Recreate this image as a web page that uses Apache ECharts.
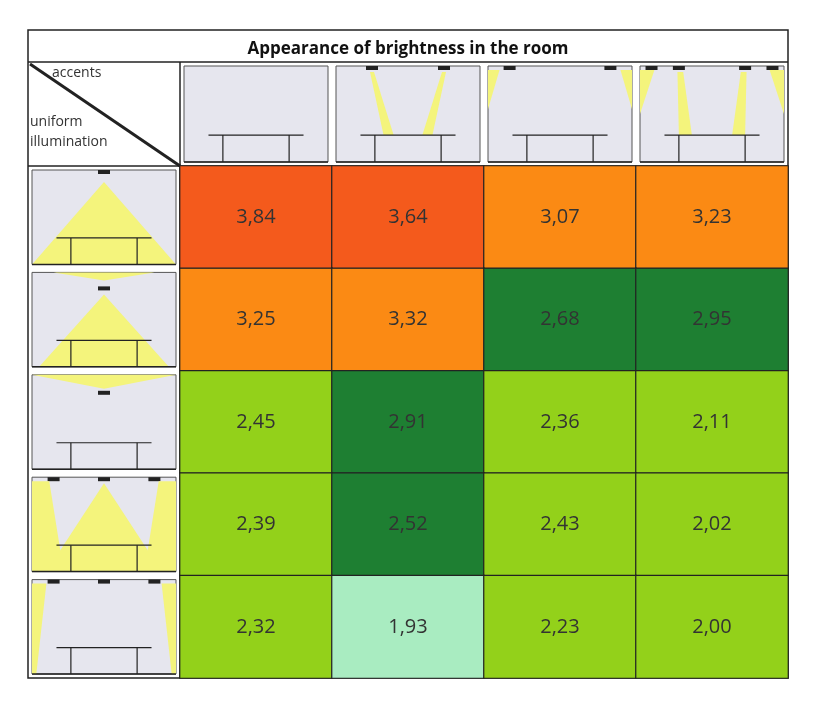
<!DOCTYPE html>
<html><head><meta charset="utf-8">
<script src="https://cdn.jsdelivr.net/npm/echarts@6/dist/echarts.min.js"></script>
<style>html,body{margin:0;background:#fff}#c{width:816px;height:712px}</style>
</head><body><div id="c"></div>
<script>
const accents = ['none','narrow spots','wide spots','four spots'];
const uniform = ['wide downlight','down/up light','up light','three wide downlights','three wall washers'];
const values = [
  [3.84,3.64,3.07,3.23],
  [3.25,3.32,2.68,2.95],
  [2.45,2.91,2.36,2.11],
  [2.39,2.52,2.43,2.02],
  [2.32,1.93,2.23,2.00]
];
const groups = [
  ['high','high','mid','mid'],
  ['mid','mid','dark','dark'],
  ['light','dark','light','light'],
  ['light','dark','light','light'],
  ['light','pale','light','light']
];
const groupColor = {high:'#f45a1c', mid:'#fb8a14', dark:'#1e7f32', light:'#93d11a', pale:'#a9ecc1'};

const data = [];
values.forEach((row,r)=>row.forEach((v,c)=>data.push({value:[c,r,v],itemStyle:{color:groupColor[groups[r][c]]}})));

const chart = echarts.init(document.getElementById('c'));
const L=180,R=788,T=166,B=678,CW=(R-L)/4,RH=(B-T)/5;
const Y='#f4f47c', G='#e6e6ee', K='#222';
const g=[];
function box(x,y,w,h){g.push({type:'rect',shape:{x,y,width:w,height:h},style:{fill:G,stroke:'#555',lineWidth:1}});}
function poly(pts,fill){g.push({type:'polygon',shape:{points:pts},style:{fill}});}
function line(x1,y1,x2,y2,w){g.push({type:'line',shape:{x1,y1,x2,y2},style:{stroke:K,lineWidth:w||1.2}});}
function lamp(x,y){g.push({type:'rect',shape:{x:x-6,y:y,width:12,height:4},style:{fill:K}});}
function table(x,y,w,h){ // box coords
  const tl=x+w*0.17, tr=x+w*0.83, ty=y+h*0.72;
  line(tl,ty,tr,ty);line(tl+w*0.1,ty,tl+w*0.1,y+h);line(tr-w*0.1,ty,tr-w*0.1,y+h);
  line(x,y+h,x+w,y+h,1.5);
}
// header icons
for(let c=0;c<4;c++){
  const x=L+c*CW+4,y=T-100,w=CW-8,h=96;
  box(x,y,w,h);
  if(c===1){[0.25,0.75].forEach((f,i)=>{const lx=x+w*f;lamp(lx,y);poly(i?[[lx-2,y+6],[lx+2,y+6],[lx-w*0.08,y+h*0.72],[lx-w*0.15,y+h*0.72]]:[[lx-2,y+6],[lx+2,y+6],[lx+w*0.15,y+h*0.72],[lx+w*0.08,y+h*0.72]],Y);});}
  if(c===2){lamp(x+w*0.15,y);lamp(x+w*0.85,y);poly([[x,y+4],[x+w*0.08,y+4],[x,y+h*0.45]],Y);poly([[x+w,y+4],[x+w*0.92,y+4],[x+w,y+h*0.45]],Y);}
  if(c===3){[0.08,0.27,0.73,0.92].forEach(f=>lamp(x+w*f,y));poly([[x,y+4],[x+w*0.1,y+4],[x,y+h*0.5]],Y);poly([[x+w,y+4],[x+w*0.9,y+4],[x+w,y+h*0.5]],Y);
    poly([[x+w*0.26,y+6],[x+w*0.3,y+6],[x+w*0.36,y+h*0.72],[x+w*0.27,y+h*0.72]],Y);poly([[x+w*0.7,y+6],[x+w*0.74,y+6],[x+w*0.73,y+h*0.72],[x+w*0.64,y+h*0.72]],Y);}
  table(x,y,w,h);
}
// row icons
for(let r=0;r<5;r++){
  const x=32,y=T+r*RH+4,w=L-36,h=RH-8,cx=x+w/2;
  box(x,y,w,h);
  if(r===0){lamp(cx,y);poly([[cx,y+12],[x+w,y+h],[x,y+h]],Y);}
  if(r===1){poly([[x+w*0.15,y],[x+w*0.85,y],[cx,y+8]],Y);lamp(cx,y+14);poly([[cx,y+22],[x+w*0.95,y+h],[x+w*0.05,y+h]],Y);}
  if(r===2){poly([[x,y],[x+w,y],[cx,y+14]],Y);lamp(cx,y+16);}
  if(r===3){[0.15,0.5,0.85].forEach(f=>lamp(x+w*f,y));poly([[x,y+4],[x+w*0.12,y+4],[x+w*0.22,y+h],[x,y+h]],Y);poly([[x+w,y+4],[x+w*0.88,y+4],[x+w*0.78,y+h],[x+w,y+h]],Y);poly([[cx,y+6],[x+w*0.9,y+h],[x+w*0.1,y+h]],Y);}
  if(r===4){[0.15,0.5,0.85].forEach(f=>lamp(x+w*f,y));poly([[x,y+4],[x+w*0.1,y+4],[x+w*0.03,y+h],[x,y+h]],Y);poly([[x+w,y+4],[x+w*0.9,y+4],[x+w*0.97,y+h],[x+w,y+h]],Y);}
  table(x,y,w,h);
}
// frame lines
g.push({type:'rect',shape:{x:28,y:30,width:760,height:648},style:{fill:null,stroke:'#222',lineWidth:1.5}});
line(28,62,788,62,1.5);line(28,T,788,T,1.5);line(L,62,L,678,1.5);
line(30,64,L,T,3);

chart.setOption({
  animation:false,
  title:{text:'Appearance of brightness in the room',left:'center',top:36,textStyle:{fontFamily:'Open Sans',fontWeight:'bold',fontSize:17,color:'#111'}},
  grid:{left:L,right:816-R,top:T,bottom:712-B},
  xAxis:{type:'category',data:accents,show:false},
  yAxis:{type:'category',data:uniform,inverse:true,show:false},
  series:[{type:'heatmap',data,
    itemStyle:{borderColor:'#222',borderWidth:1.2},
    label:{show:true,fontFamily:'Open Sans',fontSize:20,color:'#333',formatter:p=>p.value[2].toFixed(2).replace('.',',')}}],
  graphic:g.concat([
    {type:'text',left:52,top:66,style:{text:'accents',font:'14px "Open Sans"',fill:'#333'}},
    {type:'text',left:30,top:112,style:{text:'uniform\nillumination',font:'14px "Open Sans"',fill:'#333',lineHeight:20}}
  ])
});
</script></body></html>
